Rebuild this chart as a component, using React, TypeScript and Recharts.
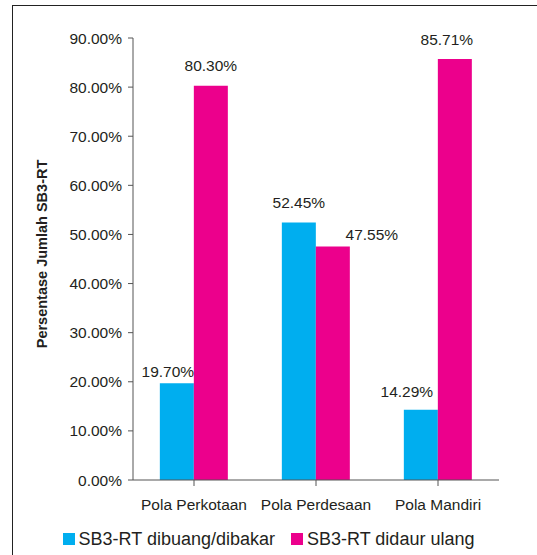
import React from 'react';
import { BarChart, Bar, XAxis, YAxis, Legend, LabelList } from 'recharts';

const categories = ['Pola Perkotaan', 'Pola Perdesaan', 'Pola Mandiri'];
const dibuang = [19.7, 52.45, 14.29];
const didaur = [80.3, 47.55, 85.71];
const yTicks = [0, 10, 20, 30, 40, 50, 60, 70, 80, 90];

const CYAN = '#00AEEF';
const MAGENTA = '#EC008C';
const INK = '#231F20';
const FONT = '"Liberation Sans", Arial, Helvetica, sans-serif';

// label nudges (dx, dy) copied from the hand-placed labels in the original
const nudgeDibuang = [[-9, 8], [0, 0], [-14, 2]];
const nudgeDidaur = [[0, 0], [39, 8.5], [-8, 0]];

const data = categories.map((name, i) => ({ name, dibuang: dibuang[i], didaur: didaur[i] }));

const makeLabel = (nudge: number[][]) => (props: any) => {
  const { x, y, width, value, index } = props;
  const [dx, dy] = nudge[index] || [0, 0];
  return (
    <text
      x={Number(x) + Number(width) / 2 + dx}
      y={Number(y) - 20 + dy}
      textAnchor="middle"
      dominantBaseline="central"
      fontSize={15.5}
      fontFamily={FONT}
      fill={INK}
    >
      {Number(value).toFixed(2) + '%'}
    </text>
  );
};

const LegendContent = () => (
  <div style={{ width: 537, height: 35, paddingTop: 3, boxSizing: 'border-box', display: 'flex', justifyContent: 'center', alignItems: 'center', fontFamily: FONT, fontSize: 18, color: INK }}>
    <span style={{ display: 'inline-block', width: 12, height: 12, background: CYAN, marginRight: 4 }} />
    <span style={{ marginRight: 16 }}>SB3-RT dibuang/dibakar</span>
    <span style={{ display: 'inline-block', width: 12, height: 12, background: MAGENTA, marginRight: 4 }} />
    <span>SB3-RT didaur ulang</span>
  </div>
);

const YLabel = (props: any) => {
  const vb = props.viewBox;
  const cx = vb.x + 47;
  const cy = vb.y + vb.height / 2 - 5;
  return (
    <text
      x={cx}
      y={cy}
      transform={`rotate(-90 ${cx} ${cy})`}
      textAnchor="middle"
      fontSize={14.5}
      fontWeight="bold"
      fontFamily={FONT}
      fill={INK}
    >
      Persentase Jumlah SB3-RT
    </text>
  );
};

export default function App() {
  return (
    <div style={{ position: 'absolute', left: 0, top: 0, width: 537, height: 555, background: '#fff', overflow: 'hidden' }}>
      <div style={{ position: 'absolute', left: 12, top: 5, width: 560, height: 600, borderTop: '1.5px solid #222', borderLeft: '1.5px solid #222' }} />
      <div style={{ position: 'absolute', left: 0, top: 0 }}>
        <BarChart
          width={537}
          height={555}
          data={data}
          margin={{ top: 38, right: 38, left: 0, bottom: 0 }}
          barCategoryGap="22%"
          barGap={0}
        >
          <XAxis
            dataKey="name"
            height={40}
            tickSize={6}
            tickMargin={13}
            stroke="#555"
            tick={{ fill: INK, fontSize: 15.5, fontFamily: FONT }}
          />
          <YAxis
            width={133}
            domain={[0, 90]}
            ticks={yTicks}
            interval={0}
            tickSize={5}
            tickMargin={6}
            stroke="#555"
            tickFormatter={(v: number) => v.toFixed(2) + '%'}
            tick={{ fill: INK, fontSize: 15.5, fontFamily: FONT }}
            label={<YLabel />}
          />
          <Legend verticalAlign="bottom" content={<LegendContent />} wrapperStyle={{ left: 0, width: 537 }} />
          <Bar dataKey="dibuang" name="SB3-RT dibuang/dibakar" fill={CYAN} isAnimationActive={false}>
            <LabelList dataKey="dibuang" content={makeLabel(nudgeDibuang)} />
          </Bar>
          <Bar dataKey="didaur" name="SB3-RT didaur ulang" fill={MAGENTA} isAnimationActive={false}>
            <LabelList dataKey="didaur" content={makeLabel(nudgeDidaur)} />
          </Bar>
        </BarChart>
      </div>
    </div>
  );
}
